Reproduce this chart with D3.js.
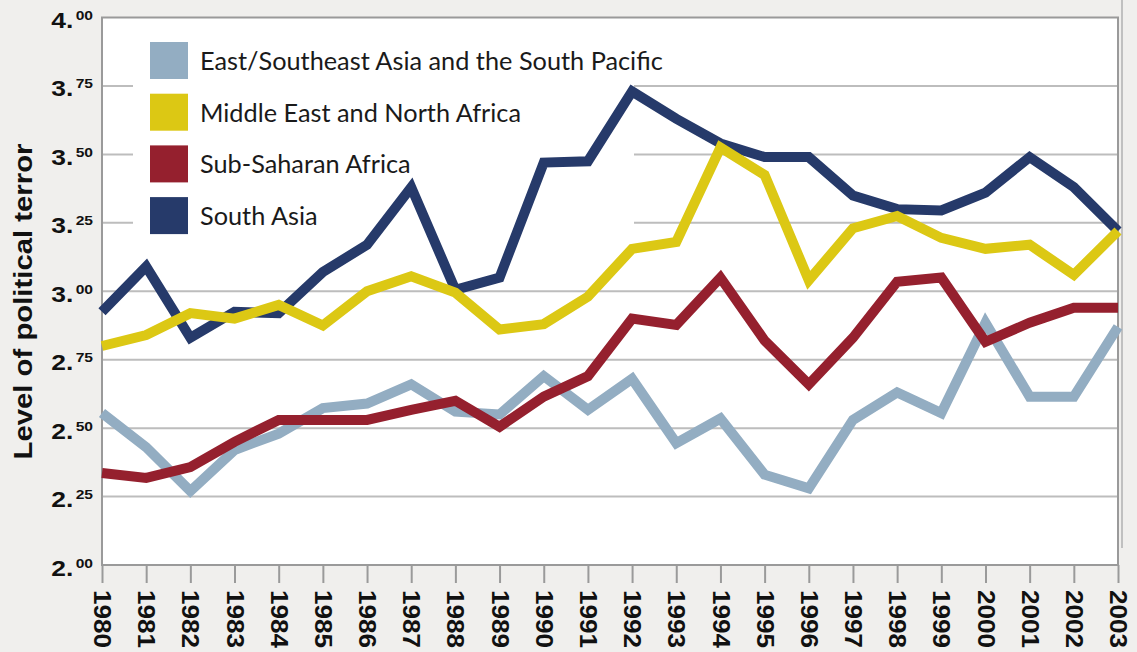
<!DOCTYPE html>
<html><head><meta charset="utf-8">
<script src="https://cdn.jsdelivr.net/npm/d3@7/dist/d3.min.js"></script>
<style>body{margin:0;background:#f0efed;}svg{display:block;}</style>
</head><body>
<svg id="chart" width="1137" height="652"></svg>
<script>
const years = d3.range(1980, 2004);
const seriesNames = ["East/Southeast Asia and the South Pacific","Middle East and North Africa","Sub-Saharan Africa","South Asia"];
const eastAsia = [2.555,2.43,2.27,2.42,2.48,2.573,2.59,2.66,2.56,2.55,2.69,2.567,2.68,2.445,2.535,2.33,2.28,2.53,2.63,2.555,2.885,2.615,2.615,2.87];
const middleEast = [2.80,2.84,2.92,2.90,2.95,2.875,3.00,3.055,2.995,2.86,2.88,2.98,3.155,3.18,3.525,3.425,3.04,3.23,3.275,3.195,3.155,3.17,3.06,3.22];
const subSaharan = [2.336,2.318,2.358,2.45,2.53,2.53,2.53,2.567,2.60,2.505,2.615,2.69,2.90,2.877,3.05,2.82,2.66,2.83,3.035,3.05,2.815,2.885,2.94,2.94];
const southAsia = [2.925,3.09,2.83,2.925,2.92,3.07,3.17,3.38,3.005,3.05,3.47,3.475,3.73,3.63,3.54,3.49,3.49,3.35,3.30,3.295,3.36,3.49,3.38,3.22];
const yTicks = ["2.00","2.25","2.50","2.75","3.00","3.25","3.50","3.75","4.00"];
const colors = ["#93adc2","#dcc814","#95202e","#263a6a"];

const svg = d3.select("#chart");
const L = 102, R = 1118, T = 17.5, B = 565;
const x = d3.scaleLinear().domain([1980, 2003]).range([L, R]);
const y = d3.scaleLinear().domain([2, 4]).range([B, T]);
const sans = "Liberation Sans, Arial, sans-serif";

// outer right line
svg.append("line").attr("x1",1122).attr("x2",1122).attr("y1",0).attr("y2",548).attr("stroke","#b0b0b0").attr("stroke-width",1.5);
// plot bg
svg.append("rect").attr("x",L).attr("y",T).attr("width",R-L).attr("height",B-T).attr("fill","#fff");

// gridlines
svg.append("g").selectAll("line").data(yTicks.slice(1,8)).join("line")
  .attr("x1",L).attr("x2",R).attr("y1",d=>y(+d)).attr("y2",d=>y(+d))
  .attr("stroke","#bdbdbd").attr("stroke-width",2);

// legend background
svg.append("rect").attr("x",133).attr("y",30).attr("width",501).attr("height",222).attr("fill","#fff");

// frame
svg.append("rect").attr("x",L).attr("y",T).attr("width",R-L).attr("height",B-T).attr("fill","none").attr("stroke","#9a9a9a").attr("stroke-width",2);

// x axis ticks
const xAxis = d3.axisBottom(x).tickValues(years).tickSize(18).tickFormat(d3.format("d"));
const gx = svg.append("g").attr("transform",`translate(0,${B})`).call(xAxis);
gx.select(".domain").remove();
gx.selectAll(".tick line").attr("stroke","#9a9a9a").attr("stroke-width",2);
gx.selectAll(".tick text")
  .attr("transform","translate(0,25) rotate(90)")
  .attr("x",0).attr("y",0).attr("dy","0.35em").attr("dx",0)
  .attr("text-anchor","start")
  .attr("textLength",58).attr("lengthAdjust","spacingAndGlyphs")
  .attr("font-family",sans).attr("font-weight","bold")
  .attr("font-size",24).attr("fill","#111");

// y tick labels
const yl = svg.append("g").selectAll("text").data(yTicks).join("text")
  .attr("transform",d=>`translate(93,${y(+d)+10.5}) scale(1.2,1)`).attr("text-anchor","end")
  .attr("font-family",sans).attr("fill","#111");
yl.append("tspan").attr("font-size",22).attr("font-weight","bold").text(d=>d.split(".")[0]+".");
yl.append("tspan").attr("font-size",13).attr("font-weight","bold").attr("dy",-8).attr("dx",2).text(d=>d.split(".")[1]);

// y title
svg.append("text").attr("transform","translate(32,301.5) rotate(-90)").attr("text-anchor","middle")
  .attr("font-family",sans).attr("font-weight","bold").attr("font-size",25.5).attr("fill","#111")
  .attr("textLength",316).attr("lengthAdjust","spacingAndGlyphs")
  .text("Level of political terror");

// lines
const allSeries = [eastAsia, middleEast, subSaharan, southAsia];
const line = d3.line().x((d,i)=>x(years[i])).y(d=>y(d));
const order = [0,3,2,1];
svg.append("g").selectAll("path").data(order).join("path")
  .attr("d",k=>line(allSeries[k])).attr("fill","none").attr("stroke",k=>colors[k])
  .attr("stroke-width",10).attr("stroke-linejoin","miter").attr("stroke-miterlimit",3);

// legend
const lg = svg.append("g").selectAll("g").data(seriesNames).join("g")
  .attr("transform",(d,i)=>`translate(150,${42 + i*51.7})`);
lg.append("rect").attr("width",38).attr("height",37).attr("fill",(d,i)=>colors[i]);
lg.append("text").attr("x",50).attr("y",28).attr("font-family","Lato, sans-serif").attr("font-size",25.3).attr("fill","#1a1a1a").text(d=>d);
</script>
</body></html>
